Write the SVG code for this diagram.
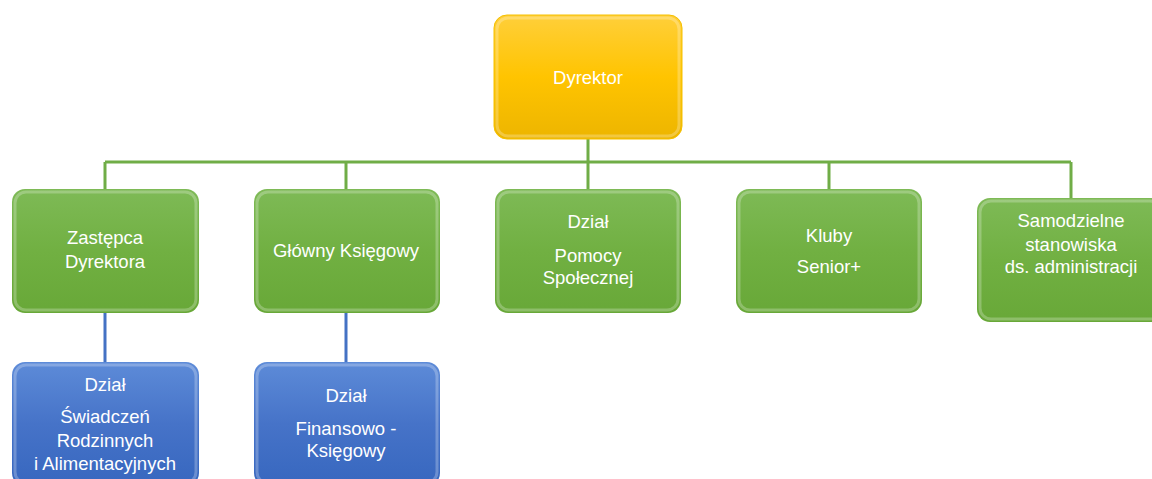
<svg xmlns="http://www.w3.org/2000/svg" width="1152" height="479" viewBox="0 0 1152 479">
<style>
.t{font-family:"Liberation Sans",Arial,sans-serif;font-size:18.5px;fill:#ffffff;text-anchor:middle}
.cg{stroke:#70AD47;stroke-width:3;fill:none}
.cb{stroke:#4472C4;stroke-width:3;fill:none}
.hl{fill:none;stroke:#ffffff;stroke-opacity:0.25;stroke-width:3}
</style>
<defs>
<linearGradient id="gold" x1="0" y1="0" x2="0" y2="1">
<stop offset="0" stop-color="#FFCF3A"/>
<stop offset="0.5" stop-color="#FFC400"/>
<stop offset="1" stop-color="#EDB500"/>
</linearGradient>
<linearGradient id="green" x1="0" y1="0" x2="0" y2="1">
<stop offset="0" stop-color="#7EBA56"/>
<stop offset="0.5" stop-color="#71B042"/>
<stop offset="1" stop-color="#68A838"/>
</linearGradient>
<linearGradient id="blue" x1="0" y1="0" x2="0" y2="1">
<stop offset="0" stop-color="#5D8BD8"/>
<stop offset="0.5" stop-color="#4673C8"/>
<stop offset="1" stop-color="#3767BF"/>
</linearGradient>
</defs>
<g id="connectors">
<path class="cg" d="M588 139V162M105 162H1071M105 162V189M346 162V189M588 162V189M829 162V189M1071 162V198"/>
<path class="cb" d="M105 313V362M346 313V362"/>
</g>
<g id="dyrektor">
<rect x="494" y="15" width="188" height="124" rx="13" fill="url(#gold)" stroke="#F5C000" stroke-width="1"/>
<rect x="497" y="18" width="182" height="118" rx="11" class="hl"/>
<text class="t" x="588" y="84">Dyrektor</text>
</g>
<g id="zastepca">
<rect x="12" y="189" width="187" height="124" rx="13" fill="url(#green)"/>
<rect x="15" y="192" width="181" height="118" rx="11" class="hl"/>
<text class="t" x="105" y="244">Zastępca</text>
<text class="t" x="105" y="268">Dyrektora</text>
</g>
<g id="glowny">
<rect x="254" y="189" width="186" height="124" rx="13" fill="url(#green)"/>
<rect x="257" y="192" width="180" height="118" rx="11" class="hl"/>
<text class="t" x="346" y="257">Główny Księgowy</text>
</g>
<g id="pomoc">
<rect x="495" y="189" width="186" height="124" rx="13" fill="url(#green)"/>
<rect x="498" y="192" width="180" height="118" rx="11" class="hl"/>
<text class="t" x="588" y="228">Dział</text>
<text class="t" x="588" y="262">Pomocy</text>
<text class="t" x="588" y="284">Społecznej</text>
</g>
<g id="kluby">
<rect x="736" y="189" width="186" height="124" rx="13" fill="url(#green)"/>
<rect x="739" y="192" width="180" height="118" rx="11" class="hl"/>
<text class="t" x="829" y="242">Kluby</text>
<text class="t" x="829" y="273">Senior+</text>
</g>
<g id="samodzielne">
<rect x="977" y="198" width="187" height="124" rx="13" fill="url(#green)"/>
<rect x="980" y="201" width="181" height="118" rx="11" class="hl"/>
<text class="t" x="1071" y="227">Samodzielne</text>
<text class="t" x="1071" y="251">stanowiska</text>
<text class="t" x="1071" y="273">ds. administracji</text>
</g>
<g id="swiadczenia">
<rect x="12" y="362" width="187" height="124" rx="13" fill="url(#blue)"/>
<rect x="15" y="365" width="181" height="118" rx="11" class="hl"/>
<text class="t" x="105" y="391">Dział</text>
<text class="t" x="105" y="423">Świadczeń</text>
<text class="t" x="105" y="447">Rodzinnych</text>
<text class="t" x="105" y="470">i Alimentacyjnych</text>
</g>
<g id="finansowy">
<rect x="254" y="362" width="186" height="124" rx="13" fill="url(#blue)"/>
<rect x="257" y="365" width="180" height="118" rx="11" class="hl"/>
<text class="t" x="346" y="402">Dział</text>
<text class="t" x="346" y="435">Finansowo -</text>
<text class="t" x="346" y="457">Księgowy</text>
</g>
</svg>
